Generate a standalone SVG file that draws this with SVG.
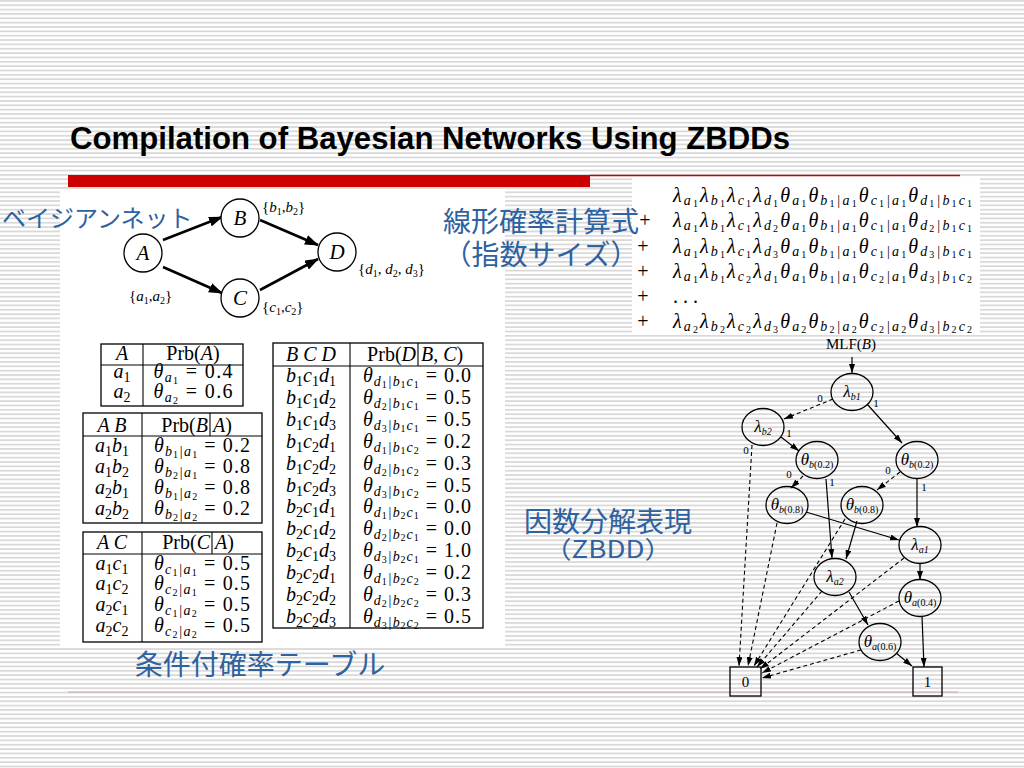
<svg xmlns="http://www.w3.org/2000/svg" width="1024" height="768" viewBox="0 0 1024 768">
<defs>
<pattern id="stripes" x="0" y="0" width="16" height="4.35" patternUnits="userSpaceOnUse">
<rect width="16" height="4.35" fill="#ffffff"/>
<rect y="0" width="16" height="1.8" fill="#d9d9d9"/>
</pattern>
<marker id="bnArrow" viewBox="0 0 14 10" refX="13" refY="5" markerWidth="14" markerHeight="10" markerUnits="userSpaceOnUse" orient="auto"><path d="M0,0 L14,5 L0,10 z" fill="#000"/></marker>
<marker id="zArrow" viewBox="0 0 9 6" refX="9" refY="3" markerWidth="9" markerHeight="6" markerUnits="userSpaceOnUse" orient="auto"><path d="M0,0 L9,3 L0,6 z" fill="#000"/></marker>
</defs>
<style>
.jp { font-family: "Noto Sans CJK JP", sans-serif; fill: #2e62a0; }
.title { font-family: "Liberation Sans", Arial, sans-serif; font-size: 31px; font-weight: bold; fill: #000; }
.bnc { fill: #fff; stroke: #000; stroke-width: 1.3; }
.bne { stroke: #000; stroke-width: 2.6; fill: none; marker-end: url(#bnArrow); }
.bnl { font-family: "Liberation Serif", serif; font-size: 21px; font-style: italic; text-anchor: middle; fill: #000; }
.bl { font-family: "Liberation Serif", serif; font-size: 15px; font-style: italic; fill: #000; }
.bd { font-size: 10px; font-style: normal; }
.tb { fill: none; stroke: #000; stroke-width: 1.3; }
.tl { stroke: #000; stroke-width: 1.1; }
.tt { font-family: "Liberation Serif", serif; font-size: 20px; font-style: italic; text-anchor: middle; fill: #000; }
.n { font-style: normal; }
.s { font-size: 14px; }
.d { font-size: 14px; font-style: normal; }
.dd { font-size: 10px; font-style: normal; }
.fm { font-family: "Liberation Serif", serif; font-size: 20px; font-style: italic; fill: #000; }
.fs { font-size: 14px; }
.fd { font-size: 10px; font-style: normal; }
.fp { font-family: "Liberation Serif", serif; font-size: 20px; fill: #000; text-anchor: middle; }
.zn { fill: none; stroke: #000; stroke-width: 1.3; }
.zt { fill: none; stroke: #000; stroke-width: 1.3; }
.zl { font-family: "Liberation Serif", serif; font-size: 17px; font-style: italic; text-anchor: middle; fill: #000; }
.zs { font-size: 10px; }
.zsol { stroke: #000; stroke-width: 1.2; fill: none; marker-end: url(#zArrow); }
.zdash { stroke: #000; stroke-width: 1.1; stroke-dasharray: 4 3; fill: none; marker-end: url(#zArrow); }
.el { font-family: "Liberation Serif", serif; font-size: 11px; fill: #000; text-anchor: middle; }
</style>

<rect x="0" y="0" width="1024" height="768" fill="url(#stripes)"/>
<rect x="60" y="190" width="445" height="458" fill="#fff"/>
<rect x="632" y="178" width="348" height="155" fill="#fff"/>

<text class="title" x="70" y="149" textLength="720" lengthAdjust="spacingAndGlyphs">Compilation of Bayesian Networks Using ZBDDs</text>
<rect x="68" y="175" width="522" height="12" fill="#cc0000"/>
<line x1="590" y1="175.5" x2="960" y2="175.5" stroke="#cc0000" stroke-width="1.5"/>
<line x1="68" y1="692" x2="958" y2="692" stroke="#cfa8a8" stroke-width="1"/>

<text class="jp" x="2" y="227" font-size="24">ベイジアンネット</text>
<text class="jp" x="541" y="232" font-size="28" text-anchor="middle">線形確率計算式</text>
<text class="jp" x="541" y="265" font-size="28" text-anchor="middle">（指数サイズ）</text>
<text class="jp" x="260" y="675" font-size="28" text-anchor="middle">条件付確率テーブル</text>
<text class="jp" x="608" y="532" font-size="28" text-anchor="middle">因数分解表現</text>
<text class="jp" x="608" y="558" font-size="24" text-anchor="middle" textLength="128" lengthAdjust="spacingAndGlyphs">（ZBDD）</text>

<g id="connectors">
<g id="bn-edges">
<line class="bne" x1="163" y1="240" x2="222" y2="217"/>
<line class="bne" x1="260" y1="220" x2="318" y2="245"/>
<line class="bne" x1="163" y1="267" x2="222" y2="293"/>
<line class="bne" x1="260" y1="290" x2="318" y2="259"/>
</g>
<g id="zbdd-edges">
<line class="zsol" x1="852" y1="357" x2="852" y2="373"/>
<line class="zdash" x1="833" y1="399" x2="784" y2="419"/>
<text class="el" x="820" y="402">0</text>
<line class="zsol" x1="867" y1="404" x2="902" y2="443"/>
<text class="el" x="876" y="407">1</text>
<line class="zsol" x1="781" y1="437" x2="799" y2="451"/>
<text class="el" x="789" y="437">1</text>
<line class="zdash" x1="752" y1="445" x2="739" y2="666"/>
<text class="el" x="746" y="454">0</text>
<line class="zdash" x1="803" y1="476" x2="791" y2="488"/>
<text class="el" x="789" y="478">0</text>
<line class="zsol" x1="826" y1="479" x2="832" y2="558"/>
<text class="el" x="832" y="486">1</text>
<line class="zdash" x1="900" y1="472" x2="877" y2="490"/>
<text class="el" x="888" y="474">0</text>
<line class="zsol" x1="917" y1="478" x2="917" y2="527"/>
<text class="el" x="924" y="491">1</text>
<line class="zsol" x1="806" y1="512" x2="899" y2="540"/>
<line class="zdash" x1="777" y1="523" x2="748" y2="666"/>
<line class="zsol" x1="857" y1="521" x2="846" y2="559"/>
<line class="zdash" x1="845" y1="519" x2="754" y2="666"/>
<line class="zsol" x1="920" y1="563" x2="920" y2="580"/>
<line class="zdash" x1="904" y1="558" x2="760" y2="669"/>
<line class="zsol" x1="849" y1="592" x2="868" y2="625"/>
<line class="zdash" x1="822" y1="591" x2="757" y2="667"/>
<line class="zdash" x1="899" y1="601" x2="762" y2="673"/>
<line class="zsol" x1="922" y1="616" x2="924" y2="667"/>
<line class="zdash" x1="861" y1="650" x2="762" y2="678"/>
<line class="zsol" x1="896" y1="653" x2="912" y2="666"/>
</g>
</g>

<g id="bn-a"><circle class="bnc" cx="143" cy="253" r="19"/><text class="bnl" x="143" y="260">A</text><text class="bl" x="129" y="301"><tspan class="n">{</tspan>a<tspan class="bd" dy="3">1</tspan><tspan class="n" dy="-3">,</tspan>a<tspan class="bd" dy="3">2</tspan><tspan class="n" dy="-3">}</tspan></text></g>
<g id="bn-b"><circle class="bnc" cx="240" cy="218" r="19"/><text class="bnl" x="240" y="225">B</text><text class="bl" x="262" y="212"><tspan class="n">{</tspan>b<tspan class="bd" dy="3">1</tspan><tspan class="n" dy="-3">,</tspan>b<tspan class="bd" dy="3">2</tspan><tspan class="n" dy="-3">}</tspan></text></g>
<g id="bn-c"><circle class="bnc" cx="240" cy="298" r="19"/><text class="bnl" x="240" y="305">C</text><text class="bl" x="262" y="312"><tspan class="n">{</tspan>c<tspan class="bd" dy="3">1</tspan><tspan class="n" dy="-3">,</tspan>c<tspan class="bd" dy="3">2</tspan><tspan class="n" dy="-3">}</tspan></text></g>
<g id="bn-d"><circle class="bnc" cx="337" cy="252" r="19"/><text class="bnl" x="337" y="259">D</text><text class="bl" x="358" y="274"><tspan class="n">{</tspan>d<tspan class="bd" dy="3">1</tspan><tspan class="n" dy="-3">, </tspan>d<tspan class="bd" dy="3">2</tspan><tspan class="n" dy="-3">, </tspan>d<tspan class="bd" dy="3">3</tspan><tspan class="n" dy="-3">}</tspan></text></g>

<g id="table-a">
<rect class="tb" x="101" y="344" width="142" height="62"/>
<line class="tl" x1="101" y1="365" x2="243" y2="365"/>
<line class="tl" x1="143" y1="344" x2="143" y2="406"/>
<text class="tt" x="122" y="360">A</text>
<text class="tt" x="193" y="360"><tspan class="n">Prb(</tspan>A<tspan class="n">)</tspan></text>
<text class="tt" x="122" y="378">a<tspan class="d" dy="4">1</tspan></text>
<text class="tt" x="193" y="378" textLength="79">θ<tspan class="s" dy="4">a</tspan><tspan class="dd" dy="1.5">1</tspan><tspan class="n" dy="-5.5"> = 0.4</tspan></text>
<text class="tt" x="122" y="398">a<tspan class="d" dy="4">2</tspan></text>
<text class="tt" x="193" y="398" textLength="79">θ<tspan class="s" dy="4">a</tspan><tspan class="dd" dy="1.5">2</tspan><tspan class="n" dy="-5.5"> = 0.6</tspan></text>
</g>

<g id="table-ab">
<rect class="tb" x="83" y="413" width="179" height="110"/>
<line class="tl" x1="83" y1="436" x2="262" y2="436"/>
<line class="tl" x1="142" y1="413" x2="142" y2="523"/>
<line class="tl" x1="210" y1="413" x2="210" y2="436"/>
<text class="tt" x="112" y="432">A B</text>
<text class="tt" x="208" y="432" style="text-anchor:end"><tspan class="n">Prb(</tspan>B</text>
<text class="tt" x="213" y="432" style="text-anchor:start">A<tspan class="n">)</tspan></text>
<text class="tt" x="112" y="452">a<tspan class="d" dy="4">1</tspan><tspan dy="-4">b</tspan><tspan class="d" dy="4">1</tspan></text>
<text class="tt" x="202" y="452" textLength="96">θ<tspan class="s" dy="4">b</tspan><tspan class="dd" dy="1.5">1</tspan><tspan class="s" dy="-1.5">|a</tspan><tspan class="dd" dy="1.5">1</tspan><tspan class="n" dy="-5.5"> = 0.2</tspan></text>
<text class="tt" x="112" y="473">a<tspan class="d" dy="4">1</tspan><tspan dy="-4">b</tspan><tspan class="d" dy="4">2</tspan></text>
<text class="tt" x="202" y="473" textLength="96">θ<tspan class="s" dy="4">b</tspan><tspan class="dd" dy="1.5">2</tspan><tspan class="s" dy="-1.5">|a</tspan><tspan class="dd" dy="1.5">1</tspan><tspan class="n" dy="-5.5"> = 0.8</tspan></text>
<text class="tt" x="112" y="494">a<tspan class="d" dy="4">2</tspan><tspan dy="-4">b</tspan><tspan class="d" dy="4">1</tspan></text>
<text class="tt" x="202" y="494" textLength="96">θ<tspan class="s" dy="4">b</tspan><tspan class="dd" dy="1.5">1</tspan><tspan class="s" dy="-1.5">|a</tspan><tspan class="dd" dy="1.5">2</tspan><tspan class="n" dy="-5.5"> = 0.8</tspan></text>
<text class="tt" x="112" y="515">a<tspan class="d" dy="4">2</tspan><tspan dy="-4">b</tspan><tspan class="d" dy="4">2</tspan></text>
<text class="tt" x="202" y="515" textLength="96">θ<tspan class="s" dy="4">b</tspan><tspan class="dd" dy="1.5">2</tspan><tspan class="s" dy="-1.5">|a</tspan><tspan class="dd" dy="1.5">2</tspan><tspan class="n" dy="-5.5"> = 0.2</tspan></text>
</g>

<g id="table-ac">
<rect class="tb" x="83" y="532" width="179" height="110"/>
<line class="tl" x1="83" y1="554" x2="262" y2="554"/>
<line class="tl" x1="142" y1="532" x2="142" y2="642"/>
<line class="tl" x1="212" y1="532" x2="212" y2="554"/>
<text class="tt" x="112" y="549">A C</text>
<text class="tt" x="210" y="549" style="text-anchor:end"><tspan class="n">Prb(</tspan>C</text>
<text class="tt" x="215" y="549" style="text-anchor:start">A<tspan class="n">)</tspan></text>
<text class="tt" x="112" y="570">a<tspan class="d" dy="4">1</tspan><tspan dy="-4">c</tspan><tspan class="d" dy="4">1</tspan></text>
<text class="tt" x="202" y="570" textLength="96">θ<tspan class="s" dy="4">c</tspan><tspan class="dd" dy="1.5">1</tspan><tspan class="s" dy="-1.5">|a</tspan><tspan class="dd" dy="1.5">1</tspan><tspan class="n" dy="-5.5"> = 0.5</tspan></text>
<text class="tt" x="112" y="590">a<tspan class="d" dy="4">1</tspan><tspan dy="-4">c</tspan><tspan class="d" dy="4">2</tspan></text>
<text class="tt" x="202" y="590" textLength="96">θ<tspan class="s" dy="4">c</tspan><tspan class="dd" dy="1.5">2</tspan><tspan class="s" dy="-1.5">|a</tspan><tspan class="dd" dy="1.5">1</tspan><tspan class="n" dy="-5.5"> = 0.5</tspan></text>
<text class="tt" x="112" y="611">a<tspan class="d" dy="4">2</tspan><tspan dy="-4">c</tspan><tspan class="d" dy="4">1</tspan></text>
<text class="tt" x="202" y="611" textLength="96">θ<tspan class="s" dy="4">c</tspan><tspan class="dd" dy="1.5">1</tspan><tspan class="s" dy="-1.5">|a</tspan><tspan class="dd" dy="1.5">2</tspan><tspan class="n" dy="-5.5"> = 0.5</tspan></text>
<text class="tt" x="112" y="632">a<tspan class="d" dy="4">2</tspan><tspan dy="-4">c</tspan><tspan class="d" dy="4">2</tspan></text>
<text class="tt" x="202" y="632" textLength="96">θ<tspan class="s" dy="4">c</tspan><tspan class="dd" dy="1.5">2</tspan><tspan class="s" dy="-1.5">|a</tspan><tspan class="dd" dy="1.5">2</tspan><tspan class="n" dy="-5.5"> = 0.5</tspan></text>
</g>

<g id="table-bcd">
<rect class="tb" x="273" y="343" width="210" height="285"/>
<line class="tl" x1="273" y1="366" x2="483" y2="366"/>
<line class="tl" x1="350" y1="343" x2="350" y2="628"/>
<line class="tl" x1="418" y1="343" x2="418" y2="366"/>
<text class="tt" x="311" y="361">B C D</text>
<text class="tt" x="416" y="361" style="text-anchor:end"><tspan class="n">Prb(</tspan>D</text>
<text class="tt" x="421" y="361" style="text-anchor:start">B<tspan class="n">, </tspan>C<tspan class="n">)</tspan></text>
<text class="tt" x="311" y="382">b<tspan class="d" dy="4">1</tspan><tspan dy="-4">c</tspan><tspan class="d" dy="4">1</tspan><tspan dy="-4">d</tspan><tspan class="d" dy="4">1</tspan></text>
<text class="tt" x="417" y="382" textLength="108">θ<tspan class="s" dy="4">d</tspan><tspan class="dd" dy="1.5">1</tspan><tspan class="s" dy="-1.5">|b</tspan><tspan class="dd" dy="1.5">1</tspan><tspan class="s" dy="-1.5">c</tspan><tspan class="dd" dy="1.5">1</tspan><tspan class="n" dy="-5.5"> = 0.0</tspan></text>
<text class="tt" x="311" y="404">b<tspan class="d" dy="4">1</tspan><tspan dy="-4">c</tspan><tspan class="d" dy="4">1</tspan><tspan dy="-4">d</tspan><tspan class="d" dy="4">2</tspan></text>
<text class="tt" x="417" y="404" textLength="108">θ<tspan class="s" dy="4">d</tspan><tspan class="dd" dy="1.5">2</tspan><tspan class="s" dy="-1.5">|b</tspan><tspan class="dd" dy="1.5">1</tspan><tspan class="s" dy="-1.5">c</tspan><tspan class="dd" dy="1.5">1</tspan><tspan class="n" dy="-5.5"> = 0.5</tspan></text>
<text class="tt" x="311" y="426">b<tspan class="d" dy="4">1</tspan><tspan dy="-4">c</tspan><tspan class="d" dy="4">1</tspan><tspan dy="-4">d</tspan><tspan class="d" dy="4">3</tspan></text>
<text class="tt" x="417" y="426" textLength="108">θ<tspan class="s" dy="4">d</tspan><tspan class="dd" dy="1.5">3</tspan><tspan class="s" dy="-1.5">|b</tspan><tspan class="dd" dy="1.5">1</tspan><tspan class="s" dy="-1.5">c</tspan><tspan class="dd" dy="1.5">1</tspan><tspan class="n" dy="-5.5"> = 0.5</tspan></text>
<text class="tt" x="311" y="448">b<tspan class="d" dy="4">1</tspan><tspan dy="-4">c</tspan><tspan class="d" dy="4">2</tspan><tspan dy="-4">d</tspan><tspan class="d" dy="4">1</tspan></text>
<text class="tt" x="417" y="448" textLength="108">θ<tspan class="s" dy="4">d</tspan><tspan class="dd" dy="1.5">1</tspan><tspan class="s" dy="-1.5">|b</tspan><tspan class="dd" dy="1.5">1</tspan><tspan class="s" dy="-1.5">c</tspan><tspan class="dd" dy="1.5">2</tspan><tspan class="n" dy="-5.5"> = 0.2</tspan></text>
<text class="tt" x="311" y="470">b<tspan class="d" dy="4">1</tspan><tspan dy="-4">c</tspan><tspan class="d" dy="4">2</tspan><tspan dy="-4">d</tspan><tspan class="d" dy="4">2</tspan></text>
<text class="tt" x="417" y="470" textLength="108">θ<tspan class="s" dy="4">d</tspan><tspan class="dd" dy="1.5">2</tspan><tspan class="s" dy="-1.5">|b</tspan><tspan class="dd" dy="1.5">1</tspan><tspan class="s" dy="-1.5">c</tspan><tspan class="dd" dy="1.5">2</tspan><tspan class="n" dy="-5.5"> = 0.3</tspan></text>
<text class="tt" x="311" y="492">b<tspan class="d" dy="4">1</tspan><tspan dy="-4">c</tspan><tspan class="d" dy="4">2</tspan><tspan dy="-4">d</tspan><tspan class="d" dy="4">3</tspan></text>
<text class="tt" x="417" y="492" textLength="108">θ<tspan class="s" dy="4">d</tspan><tspan class="dd" dy="1.5">3</tspan><tspan class="s" dy="-1.5">|b</tspan><tspan class="dd" dy="1.5">1</tspan><tspan class="s" dy="-1.5">c</tspan><tspan class="dd" dy="1.5">2</tspan><tspan class="n" dy="-5.5"> = 0.5</tspan></text>
<text class="tt" x="311" y="513">b<tspan class="d" dy="4">2</tspan><tspan dy="-4">c</tspan><tspan class="d" dy="4">1</tspan><tspan dy="-4">d</tspan><tspan class="d" dy="4">1</tspan></text>
<text class="tt" x="417" y="513" textLength="108">θ<tspan class="s" dy="4">d</tspan><tspan class="dd" dy="1.5">1</tspan><tspan class="s" dy="-1.5">|b</tspan><tspan class="dd" dy="1.5">2</tspan><tspan class="s" dy="-1.5">c</tspan><tspan class="dd" dy="1.5">1</tspan><tspan class="n" dy="-5.5"> = 0.0</tspan></text>
<text class="tt" x="311" y="535">b<tspan class="d" dy="4">2</tspan><tspan dy="-4">c</tspan><tspan class="d" dy="4">1</tspan><tspan dy="-4">d</tspan><tspan class="d" dy="4">2</tspan></text>
<text class="tt" x="417" y="535" textLength="108">θ<tspan class="s" dy="4">d</tspan><tspan class="dd" dy="1.5">2</tspan><tspan class="s" dy="-1.5">|b</tspan><tspan class="dd" dy="1.5">2</tspan><tspan class="s" dy="-1.5">c</tspan><tspan class="dd" dy="1.5">1</tspan><tspan class="n" dy="-5.5"> = 0.0</tspan></text>
<text class="tt" x="311" y="557">b<tspan class="d" dy="4">2</tspan><tspan dy="-4">c</tspan><tspan class="d" dy="4">1</tspan><tspan dy="-4">d</tspan><tspan class="d" dy="4">3</tspan></text>
<text class="tt" x="417" y="557" textLength="108">θ<tspan class="s" dy="4">d</tspan><tspan class="dd" dy="1.5">3</tspan><tspan class="s" dy="-1.5">|b</tspan><tspan class="dd" dy="1.5">2</tspan><tspan class="s" dy="-1.5">c</tspan><tspan class="dd" dy="1.5">1</tspan><tspan class="n" dy="-5.5"> = 1.0</tspan></text>
<text class="tt" x="311" y="579">b<tspan class="d" dy="4">2</tspan><tspan dy="-4">c</tspan><tspan class="d" dy="4">2</tspan><tspan dy="-4">d</tspan><tspan class="d" dy="4">1</tspan></text>
<text class="tt" x="417" y="579" textLength="108">θ<tspan class="s" dy="4">d</tspan><tspan class="dd" dy="1.5">1</tspan><tspan class="s" dy="-1.5">|b</tspan><tspan class="dd" dy="1.5">2</tspan><tspan class="s" dy="-1.5">c</tspan><tspan class="dd" dy="1.5">2</tspan><tspan class="n" dy="-5.5"> = 0.2</tspan></text>
<text class="tt" x="311" y="601">b<tspan class="d" dy="4">2</tspan><tspan dy="-4">c</tspan><tspan class="d" dy="4">2</tspan><tspan dy="-4">d</tspan><tspan class="d" dy="4">2</tspan></text>
<text class="tt" x="417" y="601" textLength="108">θ<tspan class="s" dy="4">d</tspan><tspan class="dd" dy="1.5">2</tspan><tspan class="s" dy="-1.5">|b</tspan><tspan class="dd" dy="1.5">2</tspan><tspan class="s" dy="-1.5">c</tspan><tspan class="dd" dy="1.5">2</tspan><tspan class="n" dy="-5.5"> = 0.3</tspan></text>
<text class="tt" x="311" y="623">b<tspan class="d" dy="4">2</tspan><tspan dy="-4">c</tspan><tspan class="d" dy="4">2</tspan><tspan dy="-4">d</tspan><tspan class="d" dy="4">3</tspan></text>
<text class="tt" x="417" y="623" textLength="108">θ<tspan class="s" dy="4">d</tspan><tspan class="dd" dy="1.5">3</tspan><tspan class="s" dy="-1.5">|b</tspan><tspan class="dd" dy="1.5">2</tspan><tspan class="s" dy="-1.5">c</tspan><tspan class="dd" dy="1.5">2</tspan><tspan class="n" dy="-5.5"> = 0.5</tspan></text>
</g>

<g id="mlf-formula">
<text class="fm" x="673" y="202" textLength="299">λ<tspan class="fs" dy="3">a</tspan><tspan class="fd" dy="1.5">1</tspan><tspan dy="-4.5">λ</tspan><tspan class="fs" dy="3">b</tspan><tspan class="fd" dy="1.5">1</tspan><tspan dy="-4.5">λ</tspan><tspan class="fs" dy="3">c</tspan><tspan class="fd" dy="1.5">1</tspan><tspan dy="-4.5">λ</tspan><tspan class="fs" dy="3">d</tspan><tspan class="fd" dy="1.5">1</tspan><tspan dy="-4.5">θ</tspan><tspan class="fs" dy="3">a</tspan><tspan class="fd" dy="1.5">1</tspan><tspan dy="-4.5">θ</tspan><tspan class="fs" dy="3">b</tspan><tspan class="fd" dy="1.5">1</tspan><tspan class="fs" dy="-1.5">|a</tspan><tspan class="fd" dy="1.5">1</tspan><tspan dy="-4.5">θ</tspan><tspan class="fs" dy="3">c</tspan><tspan class="fd" dy="1.5">1</tspan><tspan class="fs" dy="-1.5">|a</tspan><tspan class="fd" dy="1.5">1</tspan><tspan dy="-4.5">θ</tspan><tspan class="fs" dy="3">d</tspan><tspan class="fd" dy="1.5">1</tspan><tspan class="fs" dy="-1.5">|b</tspan><tspan class="fd" dy="1.5">1</tspan><tspan class="fs" dy="-1.5">c</tspan><tspan class="fd" dy="1.5">1</tspan></text>
<text class="fp" x="645" y="227">+</text>
<text class="fm" x="673" y="227" textLength="299">λ<tspan class="fs" dy="3">a</tspan><tspan class="fd" dy="1.5">1</tspan><tspan dy="-4.5">λ</tspan><tspan class="fs" dy="3">b</tspan><tspan class="fd" dy="1.5">1</tspan><tspan dy="-4.5">λ</tspan><tspan class="fs" dy="3">c</tspan><tspan class="fd" dy="1.5">1</tspan><tspan dy="-4.5">λ</tspan><tspan class="fs" dy="3">d</tspan><tspan class="fd" dy="1.5">2</tspan><tspan dy="-4.5">θ</tspan><tspan class="fs" dy="3">a</tspan><tspan class="fd" dy="1.5">1</tspan><tspan dy="-4.5">θ</tspan><tspan class="fs" dy="3">b</tspan><tspan class="fd" dy="1.5">1</tspan><tspan class="fs" dy="-1.5">|a</tspan><tspan class="fd" dy="1.5">1</tspan><tspan dy="-4.5">θ</tspan><tspan class="fs" dy="3">c</tspan><tspan class="fd" dy="1.5">1</tspan><tspan class="fs" dy="-1.5">|a</tspan><tspan class="fd" dy="1.5">1</tspan><tspan dy="-4.5">θ</tspan><tspan class="fs" dy="3">d</tspan><tspan class="fd" dy="1.5">2</tspan><tspan class="fs" dy="-1.5">|b</tspan><tspan class="fd" dy="1.5">1</tspan><tspan class="fs" dy="-1.5">c</tspan><tspan class="fd" dy="1.5">1</tspan></text>
<text class="fp" x="643" y="253">+</text>
<text class="fm" x="673" y="253" textLength="299">λ<tspan class="fs" dy="3">a</tspan><tspan class="fd" dy="1.5">1</tspan><tspan dy="-4.5">λ</tspan><tspan class="fs" dy="3">b</tspan><tspan class="fd" dy="1.5">1</tspan><tspan dy="-4.5">λ</tspan><tspan class="fs" dy="3">c</tspan><tspan class="fd" dy="1.5">1</tspan><tspan dy="-4.5">λ</tspan><tspan class="fs" dy="3">d</tspan><tspan class="fd" dy="1.5">3</tspan><tspan dy="-4.5">θ</tspan><tspan class="fs" dy="3">a</tspan><tspan class="fd" dy="1.5">1</tspan><tspan dy="-4.5">θ</tspan><tspan class="fs" dy="3">b</tspan><tspan class="fd" dy="1.5">1</tspan><tspan class="fs" dy="-1.5">|a</tspan><tspan class="fd" dy="1.5">1</tspan><tspan dy="-4.5">θ</tspan><tspan class="fs" dy="3">c</tspan><tspan class="fd" dy="1.5">1</tspan><tspan class="fs" dy="-1.5">|a</tspan><tspan class="fd" dy="1.5">1</tspan><tspan dy="-4.5">θ</tspan><tspan class="fs" dy="3">d</tspan><tspan class="fd" dy="1.5">3</tspan><tspan class="fs" dy="-1.5">|b</tspan><tspan class="fd" dy="1.5">1</tspan><tspan class="fs" dy="-1.5">c</tspan><tspan class="fd" dy="1.5">1</tspan></text>
<text class="fp" x="643" y="278">+</text>
<text class="fm" x="673" y="278" textLength="299">λ<tspan class="fs" dy="3">a</tspan><tspan class="fd" dy="1.5">1</tspan><tspan dy="-4.5">λ</tspan><tspan class="fs" dy="3">b</tspan><tspan class="fd" dy="1.5">1</tspan><tspan dy="-4.5">λ</tspan><tspan class="fs" dy="3">c</tspan><tspan class="fd" dy="1.5">2</tspan><tspan dy="-4.5">λ</tspan><tspan class="fs" dy="3">d</tspan><tspan class="fd" dy="1.5">1</tspan><tspan dy="-4.5">θ</tspan><tspan class="fs" dy="3">a</tspan><tspan class="fd" dy="1.5">1</tspan><tspan dy="-4.5">θ</tspan><tspan class="fs" dy="3">b</tspan><tspan class="fd" dy="1.5">1</tspan><tspan class="fs" dy="-1.5">|a</tspan><tspan class="fd" dy="1.5">1</tspan><tspan dy="-4.5">θ</tspan><tspan class="fs" dy="3">c</tspan><tspan class="fd" dy="1.5">2</tspan><tspan class="fs" dy="-1.5">|a</tspan><tspan class="fd" dy="1.5">1</tspan><tspan dy="-4.5">θ</tspan><tspan class="fs" dy="3">d</tspan><tspan class="fd" dy="1.5">3</tspan><tspan class="fs" dy="-1.5">|b</tspan><tspan class="fd" dy="1.5">1</tspan><tspan class="fs" dy="-1.5">c</tspan><tspan class="fd" dy="1.5">2</tspan></text>
<text class="fp" x="643" y="303">+</text>
<text class="fp" x="673" y="303" style="text-anchor:start">. . .</text>
<text class="fp" x="643" y="328">+</text>
<text class="fm" x="673" y="328" textLength="299">λ<tspan class="fs" dy="3">a</tspan><tspan class="fd" dy="1.5">2</tspan><tspan dy="-4.5">λ</tspan><tspan class="fs" dy="3">b</tspan><tspan class="fd" dy="1.5">2</tspan><tspan dy="-4.5">λ</tspan><tspan class="fs" dy="3">c</tspan><tspan class="fd" dy="1.5">2</tspan><tspan dy="-4.5">λ</tspan><tspan class="fs" dy="3">d</tspan><tspan class="fd" dy="1.5">3</tspan><tspan dy="-4.5">θ</tspan><tspan class="fs" dy="3">a</tspan><tspan class="fd" dy="1.5">2</tspan><tspan dy="-4.5">θ</tspan><tspan class="fs" dy="3">b</tspan><tspan class="fd" dy="1.5">2</tspan><tspan class="fs" dy="-1.5">|a</tspan><tspan class="fd" dy="1.5">2</tspan><tspan dy="-4.5">θ</tspan><tspan class="fs" dy="3">c</tspan><tspan class="fd" dy="1.5">2</tspan><tspan class="fs" dy="-1.5">|a</tspan><tspan class="fd" dy="1.5">2</tspan><tspan dy="-4.5">θ</tspan><tspan class="fs" dy="3">d</tspan><tspan class="fd" dy="1.5">3</tspan><tspan class="fs" dy="-1.5">|b</tspan><tspan class="fd" dy="1.5">2</tspan><tspan class="fs" dy="-1.5">c</tspan><tspan class="fd" dy="1.5">2</tspan></text>
</g>

<g id="zbdd-root-label"><text class="fp" x="851" y="349" style="font-size:15px">MLF(<tspan font-style="italic">B</tspan>)</text></g>

<g id="z-lb1"><ellipse class="zn" cx="852" cy="392" rx="21" ry="18.5"/><text class="zl" x="852" y="397">λ<tspan class="zs" dy="3">b1</tspan></text></g>
<g id="z-lb2"><ellipse class="zn" cx="763" cy="427" rx="21" ry="18.5"/><text class="zl" x="763" y="432">λ<tspan class="zs" dy="3">b2</tspan></text></g>
<g id="z-tb02-l"><ellipse class="zn" cx="817" cy="460" rx="21" ry="18.5"/><text class="zl" x="817" y="465">θ<tspan class="zs" dy="3">b</tspan><tspan class="zs n">(0.2)</tspan></text></g>
<g id="z-tb02-r"><ellipse class="zn" cx="917" cy="460" rx="21" ry="18.5"/><text class="zl" x="917" y="465">θ<tspan class="zs" dy="3">b</tspan><tspan class="zs n">(0.2)</tspan></text></g>
<g id="z-tb08-l"><ellipse class="zn" cx="787" cy="505" rx="21" ry="18.5"/><text class="zl" x="787" y="510">θ<tspan class="zs" dy="3">b</tspan><tspan class="zs n">(0.8)</tspan></text></g>
<g id="z-tb08-r"><ellipse class="zn" cx="862" cy="505" rx="21" ry="18.5"/><text class="zl" x="862" y="510">θ<tspan class="zs" dy="3">b</tspan><tspan class="zs n">(0.8)</tspan></text></g>
<g id="z-la1"><ellipse class="zn" cx="920" cy="545" rx="21" ry="18.5"/><text class="zl" x="920" y="550">λ<tspan class="zs" dy="3">a1</tspan></text></g>
<g id="z-la2"><ellipse class="zn" cx="835" cy="577" rx="21" ry="18.5"/><text class="zl" x="835" y="582">λ<tspan class="zs" dy="3">a2</tspan></text></g>
<g id="z-ta04"><ellipse class="zn" cx="920" cy="598" rx="21" ry="18.5"/><text class="zl" x="920" y="603">θ<tspan class="zs" dy="3">a</tspan><tspan class="zs n">(0.4)</tspan></text></g>
<g id="z-ta06"><ellipse class="zn" cx="880" cy="642" rx="21" ry="18.5"/><text class="zl" x="880" y="647">θ<tspan class="zs" dy="3">a</tspan><tspan class="zs n">(0.6)</tspan></text></g>
<g id="z-t0"><rect class="zt" x="730" y="667" width="31" height="29"/><text class="fp" x="745.5" y="687" style="font-size:15px">0</text></g>
<g id="z-t1"><rect class="zt" x="913" y="667" width="29" height="29"/><text class="fp" x="927.5" y="687" style="font-size:15px">1</text></g>
</svg>
